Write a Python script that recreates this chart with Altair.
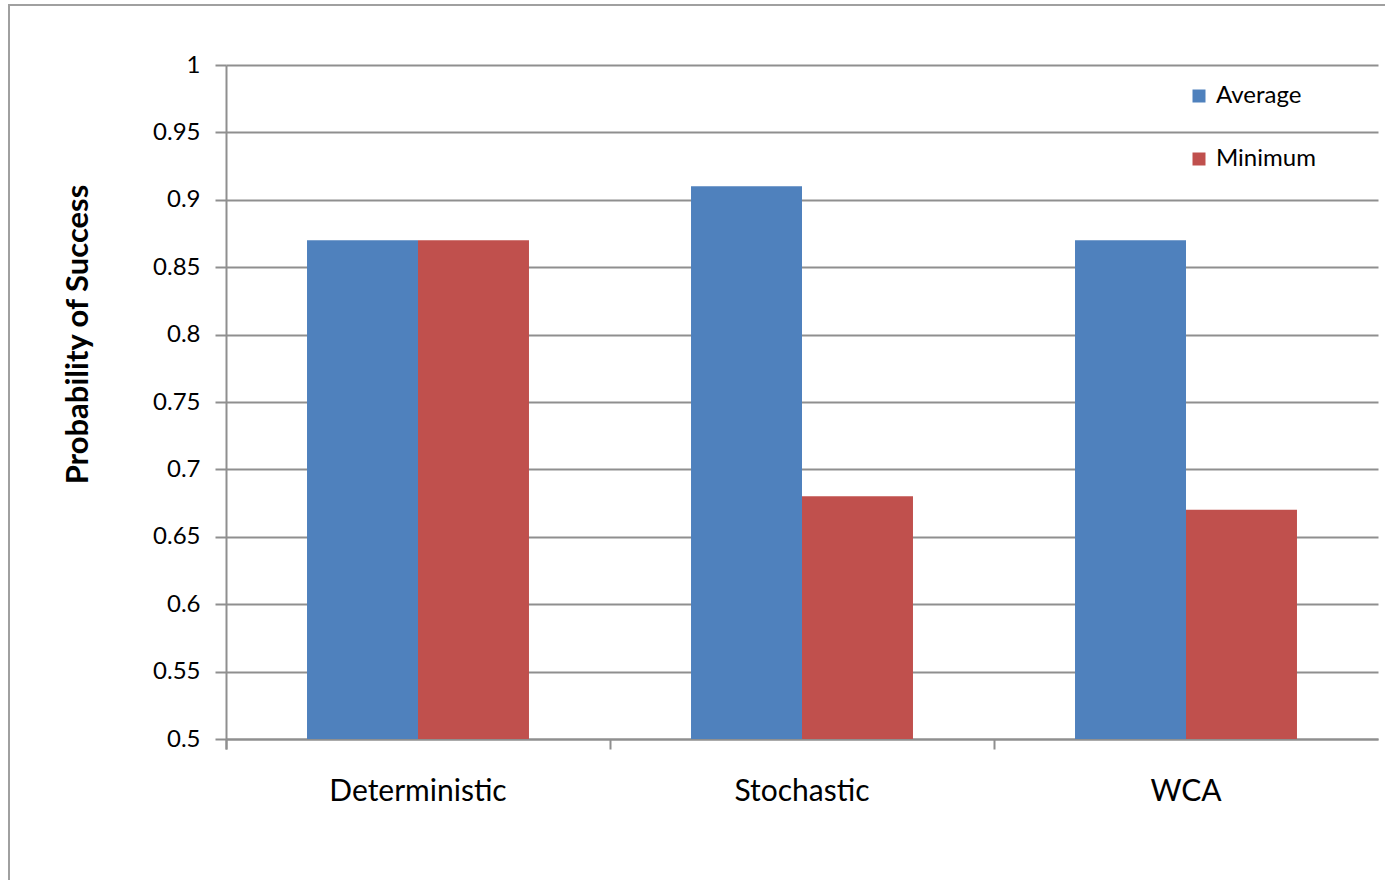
import altair as alt
import pandas as pd

categories = ["Deterministic", "Stochastic", "WCA"]
series = ["Average", "Minimum"]
average = [0.87, 0.91, 0.87]
minimum = [0.87, 0.68, 0.67]
y_ticks = [0.5, 0.55, 0.6, 0.65, 0.7, 0.75, 0.8, 0.85, 0.9, 0.95, 1.0]
colors = ["#4F81BD", "#C0504D"]

rows = []
for c, a, m in zip(categories, average, minimum):
    rows.append({"category": c, "series": series[0], "value": a})
    rows.append({"category": c, "series": series[1], "value": m})
df = pd.DataFrame(rows)

W, H = 1152, 674
FONT = "Lato"
GRID = "#8F8F8F"

bars = alt.Chart(df).mark_bar().encode(
    x=alt.X(
        "category:N",
        sort=categories,
        scale=alt.Scale(paddingInner=0, paddingOuter=0),
        axis=alt.Axis(
            title=None, bandPosition=0, tickExtra=True, labelAngle=0,
            labelFont=FONT, labelFontSize=30, labelColor="black", labelPadding=27,
            tickSize=10, tickWidth=2, tickColor=GRID,
            domainColor=GRID, domainWidth=2, grid=False,
        ),
    ),
    xOffset=alt.XOffset(
        "series:N", sort=series,
        scale=alt.Scale(paddingInner=0, paddingOuter=0.73),
    ),
    y=alt.Y(
        "value:Q",
        scale=alt.Scale(domain=[0.5, 1.0], zero=False, nice=False),
        axis=alt.Axis(
            values=y_ticks, format=".2~f",
            title="Probability of Success",
            titleFont=FONT, titleFontSize=31, titleFontWeight="bold", titleColor="black",
            titleAngle=270, titleAlign="center", titleBaseline="middle",
            titleX=-148, titleY=269,
            labelFont=FONT, labelFontSize=24, labelColor="black", labelPadding=15,
            tickSize=11, tickWidth=2, tickColor=GRID,
            domainColor=GRID, domainWidth=2,
            grid=True, gridColor=GRID, gridWidth=2,
        ),
    ),
    y2=alt.datum(0.5),
    color=alt.Color(
        "series:N", sort=series,
        scale=alt.Scale(domain=series, range=colors),
        legend=alt.Legend(
            title=None, orient="none", legendX=961, legendY=19, padding=0,
            symbolType="square", symbolSize=169, symbolStrokeWidth=0,
            labelFont=FONT, labelFontSize=24, labelColor="black",
            labelOffset=5, rowPadding=39,
        ),
    ),
)

border = alt.Chart(pd.DataFrame({"a": [0]})).mark_rect(
    filled=False, stroke="#A0A0A0", strokeWidth=2
).encode(
    x=alt.value(-217), x2=alt.value(1400), y=alt.value(-60), y2=alt.value(900)
)

chart = alt.layer(border, bars).properties(
    width=W, height=H,
    padding={"left": 226, "top": 65, "right": 7, "bottom": 141},
    autosize=alt.AutoSizeParams(type="none"),
    background="white",
).configure_view(stroke="transparent")

chart.save("out.html", embed_options={"renderer": "svg", "actions": False})
